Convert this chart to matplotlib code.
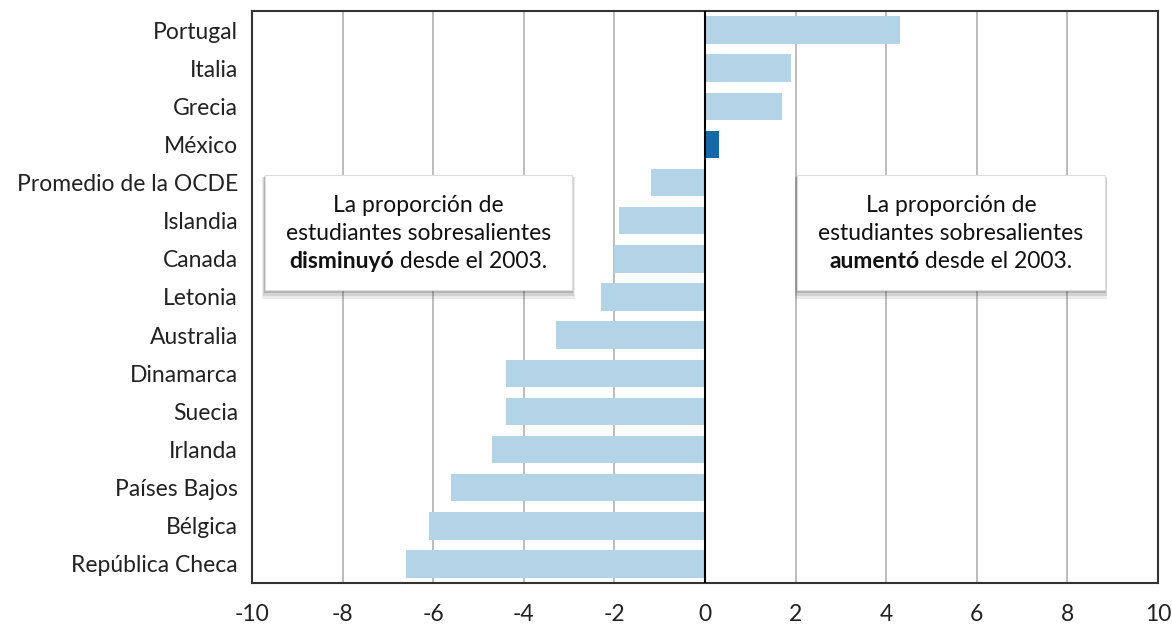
import matplotlib
matplotlib.use("Agg")
import matplotlib.pyplot as plt
from matplotlib.patches import Rectangle

plt.rcParams["font.family"] = ["Lato", "DejaVu Sans"]

# ============================================================
# Data
# ============================================================
countries = [
    "Portugal", "Italia", "Grecia", "México", "Promedio de la OCDE",
    "Islandia", "Canada", "Letonia", "Australia", "Dinamarca",
    "Suecia", "Irlanda", "Países Bajos", "Bélgica", "República Checa",
]
change = [4.3, 1.9, 1.7, 0.3, -1.2, -1.9, -2.0, -2.3, -3.3, -4.4, -4.4, -4.7, -5.6, -6.1, -6.6]
highlight = "México"

xticks = [-10, -8, -6, -4, -2, 0, 2, 4, 6, 8, 10]

light = "#b3d4e6"
dark = "#1469a8"

# ============================================================
# Figure
# ============================================================
fig = plt.figure(figsize=(11.72, 6.27), dpi=100)
ax = fig.add_axes([252 / 1172, 44 / 627, 906 / 1172, 572 / 627])

ypos = list(range(len(countries)))
colors = [dark if c == highlight else light for c in countries]
ax.barh(ypos, change, height=0.72, color=colors, zorder=3)

ax.set_xlim(-10, 10)
ax.set_ylim(len(countries) - 0.5, -0.5)
ax.set_xticks(xticks)
ax.set_xticklabels([str(t) for t in xticks], fontsize=16.5, color="#222222")
ax.set_yticks(ypos)
ax.set_yticklabels(countries, fontsize=16.5, color="#222222")
ax.tick_params(axis="both", length=0)
ax.tick_params(axis="x", pad=15)
ax.tick_params(axis="y", pad=10)

ax.grid(axis="x", color="#b0b0b0", lw=1.2, zorder=0)
ax.axvline(0, color="black", lw=1.5, zorder=4)
for s in ax.spines.values():
    s.set_color("#333333")
    s.set_linewidth(1.5)


# ============================================================
# Annotation boxes with shadow
# ============================================================
def note_box(x0, bold_word, rest):
    y0, w, h = 0.512, 0.339, 0.201
    # soft shadow
    for i, a in enumerate([0.10, 0.14, 0.22]):
        d = 0.0045 - i * 0.0014
        ax.add_patch(Rectangle((x0 - d * 0.7, y0 - d * 3.4), w + d * 1.4, h + d * 2.6,
                               transform=ax.transAxes, facecolor="#444444", edgecolor="none",
                               alpha=a, zorder=6))
    ax.add_patch(Rectangle((x0, y0), w, h, transform=ax.transAxes, facecolor="white",
                           edgecolor="#dddddd", lw=0.8, zorder=7))
    cx = x0 + w / 2
    lines_y = [y0 + h * 0.74, y0 + h * 0.495, y0 + h * 0.245]
    ax.text(cx, lines_y[0], "La proporción de", transform=ax.transAxes, ha="center",
            va="center", fontsize=16.5, color="#111111", zorder=8)
    ax.text(cx, lines_y[1], "estudiantes sobresalientes", transform=ax.transAxes, ha="center",
            va="center", fontsize=16.5, color="#111111", zorder=8)
    tb = ax.text(0, lines_y[2], bold_word, transform=ax.transAxes, ha="left", va="center",
                 fontsize=16.5, fontweight="bold", color="#111111", zorder=8)
    tr = ax.text(0, lines_y[2], " " + rest, transform=ax.transAxes, ha="left", va="center",
                 fontsize=16.5, color="#111111", zorder=8)
    return tb, tr


pairs = [
    (0.014, note_box(0.014, "disminuyó", "desde el 2003.")),
    (0.602, note_box(0.602, "aumentó", "desde el 2003.")),
]

fig.canvas.draw()
r = fig.canvas.get_renderer()
axw = ax.get_window_extent(r).width
for x0, (tb, tr) in pairs:
    wb = tb.get_window_extent(r).width / axw
    wr = tr.get_window_extent(r).width / axw
    start = x0 + 0.339 / 2 - (wb + wr) / 2
    tb.set_x(start)
    tr.set_x(start + wb)

fig.savefig("out.png", dpi=100)
